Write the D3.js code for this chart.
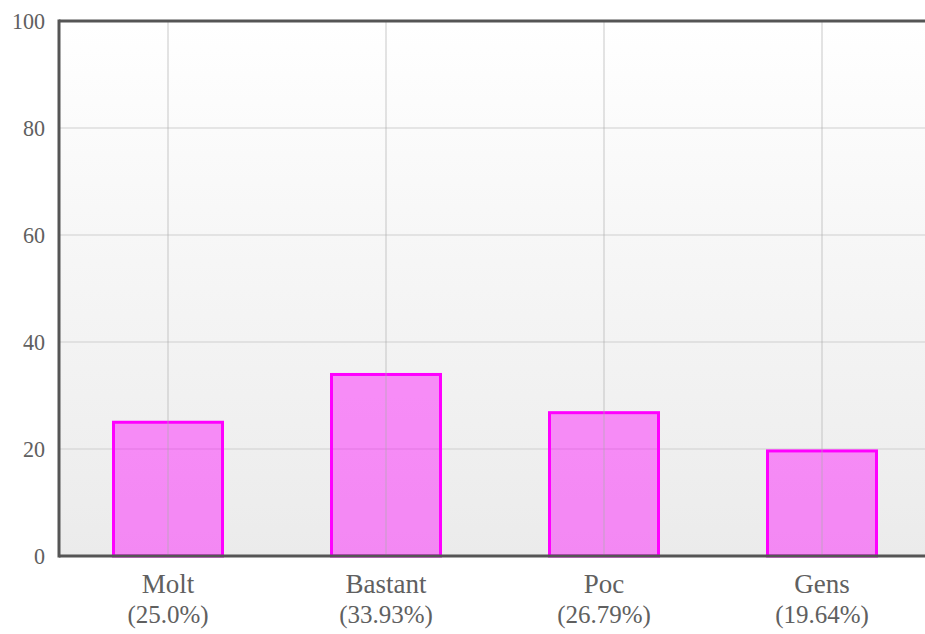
<!DOCTYPE html>
<html>
<head>
<meta charset="utf-8">
<script src="https://cdn.jsdelivr.net/npm/d3@7"></script>
<style>
  html, body { margin: 0; padding: 0; background: #fff; }
  svg { display: block; }
  text { font-family: "Liberation Serif", "Times New Roman", serif; fill: #606060; }
</style>
</head>
<body>
<script>
const categories = ["Molt", "Bastant", "Poc", "Gens"];
const percentLabels = ["(25.0%)", "(33.93%)", "(26.79%)", "(19.64%)"];
const values = [25.0, 33.93, 26.79, 19.64];
const yTicks = [0, 20, 40, 60, 80, 100];

const W = 925, H = 634;
const mLeft = 59, mTop = 21, mRight = 931, mBottom = 556;

const svg = d3.select("body").append("svg").attr("width", W).attr("height", H);

const defs = svg.append("defs");
const grad = defs.append("linearGradient").attr("id", "bg").attr("x1", 0).attr("y1", 0).attr("x2", 0).attr("y2", 1);
grad.append("stop").attr("offset", "0%").attr("stop-color", "#ffffff");
grad.append("stop").attr("offset", "100%").attr("stop-color", "#ebebeb");

const x = d3.scaleBand().domain(categories).range([mLeft, mRight]).paddingInner(0.5).paddingOuter(0.25);
const y = d3.scaleLinear().domain([0, 100]).range([mBottom, mTop]);

svg.append("rect").attr("x", mLeft).attr("y", mTop).attr("width", mRight - mLeft).attr("height", mBottom - mTop).attr("fill", "url(#bg)");

// horizontal grid
svg.append("g").selectAll("line").data(yTicks.filter(d => d > 0 && d < 100)).join("line")
  .attr("x1", mLeft).attr("x2", mRight)
  .attr("y1", d => y(d)).attr("y2", d => y(d))
  .attr("stroke", "#d0d0d0").attr("stroke-width", 1.2);

// bars
svg.append("g").selectAll("rect").data(categories).join("rect")
  .attr("x", d => x(d))
  .attr("y", (d, i) => y(values[i]))
  .attr("width", x.bandwidth())
  .attr("height", (d, i) => y(0) - y(values[i]))
  .attr("fill", "#ff00ff").attr("fill-opacity", 0.42)
  .attr("stroke", "#ff00ff").attr("stroke-width", 3);

// vertical grid
svg.append("g").selectAll("line").data(categories).join("line")
  .attr("x1", d => x(d) + x.bandwidth() / 2).attr("x2", d => x(d) + x.bandwidth() / 2)
  .attr("y1", mTop).attr("y2", mBottom)
  .attr("stroke", "#aaa").attr("stroke-opacity", 0.32).attr("stroke-width", 2);

// frame lines
svg.append("line").attr("x1", mLeft).attr("x2", mRight).attr("y1", mTop).attr("y2", mTop).attr("stroke", "#555").attr("stroke-width", 3);
svg.append("line").attr("x1", mLeft).attr("x2", mRight).attr("y1", mBottom).attr("y2", mBottom).attr("stroke", "#555").attr("stroke-width", 3);
svg.append("line").attr("x1", mLeft).attr("x2", mLeft).attr("y1", mTop - 1.5).attr("y2", mBottom + 1.5).attr("stroke", "#555").attr("stroke-width", 3);

// y labels
svg.append("g").selectAll("text").data(yTicks).join("text")
  .attr("transform", d => `translate(45,${y(d)}) scale(0.92,1)`)
  .attr("text-anchor", "end").attr("dy", "0.35em")
  .attr("font-size", 24)
  .text(d => d);

// x labels
const xl = svg.append("g").selectAll("g").data(categories).join("g")
  .attr("transform", d => `translate(${x(d) + x.bandwidth() / 2},0)`);
xl.append("text").attr("y", 593).attr("text-anchor", "middle").attr("font-size", 27).text(d => d);
xl.append("text").attr("y", 623).attr("text-anchor", "middle").attr("font-size", 25).text((d, i) => percentLabels[i]);
</script>
</body>
</html>
